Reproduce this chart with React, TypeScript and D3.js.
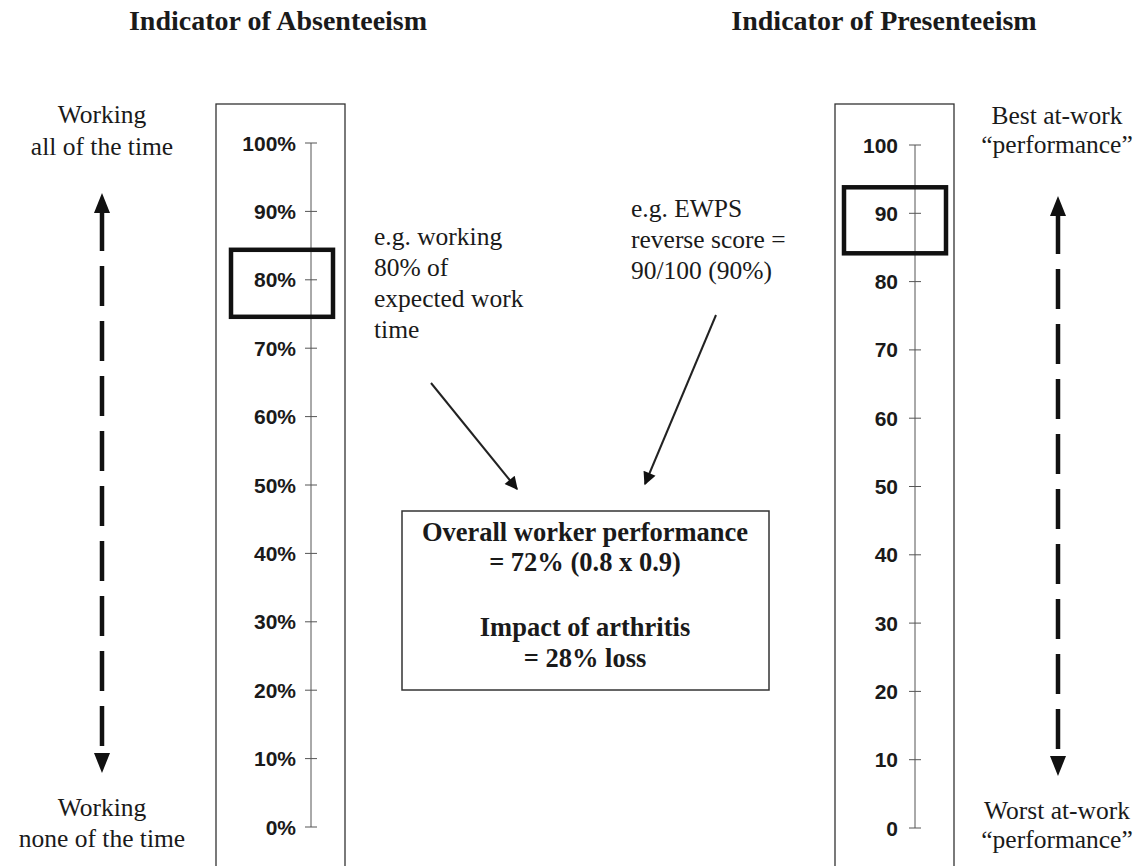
import React from 'react';
import * as d3 from 'd3';

// scale values (tick labels)
const tickValues = [0, 10, 20, 30, 40, 50, 60, 70, 80, 90, 100];
const absentLabels = ['0%', '10%', '20%', '30%', '40%', '50%', '60%', '70%', '80%', '90%', '100%'];
const presentLabels = ['0', '10', '20', '30', '40', '50', '60', '70', '80', '90', '100'];

// highlighted example values
const absentValue = 80;
const presentValue = 90;

// text blocks
const titles = ['Indicator of Absenteeism', 'Indicator of Presenteeism'];
const leftTop = ['Working', 'all of the time'];
const leftBottom = ['Working', 'none of the time'];
const rightTop = ['Best at-work', '\u201cperformance\u201d'];
const rightBottom = ['Worst at-work', '\u201cperformance\u201d'];
const absentNote = ['e.g. working', '80% of', 'expected work', 'time'];
const presentNote = ['e.g. EWPS', 'reverse score =', '90/100 (90%)'];
const resultLines = ['Overall worker performance', '= 72% (0.8 x 0.9)', 'Impact of arthritis', '= 28% loss'];

const W = 1137;
const H = 866;
const serif = '"Liberation Serif", "Times New Roman", serif';
const sans = '"Liberation Sans", Arial, sans-serif';

const DashedArrow = ({ x, y1, y2 }: { x: number; y1: number; y2: number }) => {
  const head = 20;
  const hw = 8;
  return (
    <g>
      <line x1={x} x2={x} y1={y1 + head - 2} y2={y2 - head + 2} stroke="#111" strokeWidth={4.5}
        strokeDasharray="40,15" />
      <polygon points={`${x},${y1} ${x - hw},${y1 + head} ${x + hw},${y1 + head}`} fill="#111" />
      <polygon points={`${x},${y2} ${x - hw},${y2 - head} ${x + hw},${y2 - head}`} fill="#111" />
    </g>
  );
};

const Scale = ({ boxX, boxW, axisX, labels, yScale, labelRight }: {
  boxX: number; boxW: number; axisX: number; labels: string[];
  yScale: d3.ScaleLinear<number, number>; labelRight: number;
}) => (
  <g>
    <rect x={boxX} y={104} width={boxW} height={H - 104 + 10} fill="none" stroke="#333" strokeWidth={1.3} />
    <line x1={axisX} x2={axisX} y1={yScale(0)} y2={yScale(100)} stroke="#555" strokeWidth={1} />
    {tickValues.map((t, i) => (
      <g key={t}>
        <line x1={axisX - 6} x2={axisX + 6} y1={yScale(t)} y2={yScale(t)} stroke="#555" strokeWidth={1} />
        <text x={labelRight} y={yScale(t)} dy="0.36em" textAnchor="end" fontFamily={sans}
          fontWeight="bold" fontSize={21} fill="#1a1a1a">{labels[i]}</text>
      </g>
    ))}
  </g>
);

const Lines = ({ lines, x, y, dy, anchor, bold, size }: {
  lines: string[]; x: number; y: number; dy: number; anchor: string; bold?: boolean; size: number;
}) => (
  <text fontFamily={serif} fontSize={size} fontWeight={bold ? 'bold' : 'normal'} fill="#1a1a1a" textAnchor={anchor}>
    {lines.map((l, i) => (
      <tspan key={i} x={x} y={y + i * dy}>{l}</tspan>
    ))}
  </text>
);

export default function App() {
  const yLeft = d3.scaleLinear().domain([0, 100]).range([827, 143]);
  const yRight = d3.scaleLinear().domain([0, 100]).range([828, 145]);

  return (
    <svg width={W} height={H} style={{ position: 'absolute', left: 0, top: 0, background: '#fff' }}>
      <rect width={W} height={H} fill="#fff" />

      {/* titles */}
      <text x={278} y={30} textAnchor="middle" fontFamily={serif} fontWeight="bold" fontSize={28} fill="#1a1a1a">{titles[0]}</text>
      <text x={884} y={30} textAnchor="middle" fontFamily={serif} fontWeight="bold" fontSize={28} fill="#1a1a1a">{titles[1]}</text>

      {/* absenteeism scale */}
      <Scale boxX={216} boxW={129} axisX={311} labels={absentLabels} yScale={yLeft} labelRight={296} />
      <rect x={231} y={yLeft(absentValue) - 30} width={102} height={67} fill="none" stroke="#111" strokeWidth={4.5} />

      {/* presenteeism scale */}
      <Scale boxX={835} boxW={119} axisX={915} labels={presentLabels} yScale={yRight} labelRight={898} />
      <rect x={844} y={yRight(presentValue) - 26} width={102} height={66} fill="none" stroke="#111" strokeWidth={4.5} />

      {/* side annotations */}
      <Lines lines={leftTop} x={102} y={123} dy={32} anchor="middle" size={25.5} />
      <Lines lines={leftBottom} x={102} y={816} dy={31} anchor="middle" size={25.5} />
      <Lines lines={rightTop} x={1057} y={124} dy={29} anchor="middle" size={25.5} />
      <Lines lines={rightBottom} x={1057} y={819} dy={29} anchor="middle" size={25.5} />
      <DashedArrow x={102} y1={193} y2={773} />
      <DashedArrow x={1058} y1={196} y2={776} />

      {/* example notes */}
      <Lines lines={absentNote} x={374} y={245} dy={31} anchor="start" size={25.5} />
      <Lines lines={presentNote} x={631} y={217} dy={31} anchor="start" size={25.5} />

      {/* pointer arrows */}
      <defs>
        <marker id="tip" viewBox="0 0 10 10" refX={9} refY={5} markerWidth={16} markerHeight={13}
          markerUnits="userSpaceOnUse" orient="auto">
          <path d="M0,0 L10,5 L0,10 z" fill="#111" />
        </marker>
      </defs>
      <line x1={431} y1={383} x2={517} y2={489} stroke="#222" strokeWidth={2} markerEnd="url(#tip)" />
      <line x1={716} y1={315} x2={645} y2={484} stroke="#222" strokeWidth={2} markerEnd="url(#tip)" />

      {/* result box */}
      <rect x={402} y={511} width={367} height={179} fill="none" stroke="#333" strokeWidth={1.5} />
      <Lines lines={resultLines.slice(0, 2)} x={585} y={541} dy={30} anchor="middle" bold size={26.5} />
      <Lines lines={resultLines.slice(2)} x={585} y={636} dy={31} anchor="middle" bold size={26.5} />
    </svg>
  );
}
